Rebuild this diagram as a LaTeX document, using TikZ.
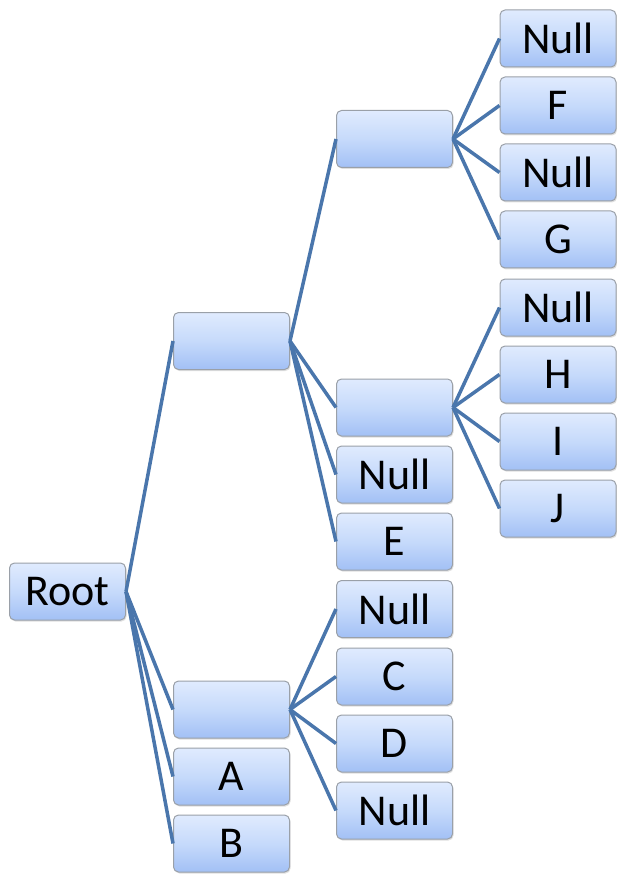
\documentclass[tikz,border=0pt]{standalone}
\usepackage{fontspec}
\setmainfont{Carlito}
\usetikzlibrary{shadows}
\definecolor{linkblue}{HTML}{4A76AC}
\definecolor{boxtop}{HTML}{E0EBFE}
\definecolor{boxmid}{HTML}{C6DAFB}
\definecolor{boxbot}{HTML}{A2C0F5}
\definecolor{boxedge}{HTML}{9AA0A8}
\tikzset{
  box/.style={draw=boxedge, line width=1pt, rounded corners=5pt,
    top color=boxtop, bottom color=boxbot, middle color=boxmid,
    minimum width=116pt, minimum height=57pt, inner sep=0pt,
    font=\fontsize{44}{44}\selectfont, text depth=0pt,
    drop shadow={shadow xshift=1pt, shadow yshift=-1.5pt, opacity=0.25}},
  link/.style={draw=linkblue, line width=3.5pt}
}
\begin{document}
\begin{tikzpicture}[x=1pt,y=-1pt]
\useasboundingbox (0,0) rectangle (616,874);
% level 0
\node[box] (root) at (67.5,591.5) {Root};
% level 1
\node[box] (n1) at (231.5,341) {};
\node[box] (n2) at (231.5,709.5) {};
\node[box] (a) at (231.5,776.5) {A};
\node[box] (b) at (231.5,843.5) {B};
% level 2
\node[box] (m1) at (394.5,139) {};
\node[box] (m2) at (394.5,407.5) {};
\node[box] (null1) at (394.5,474.5) {Null};
\node[box] (e) at (394.5,541.5) {E};
\node[box] (null2) at (394.5,609) {Null};
\node[box] (c) at (394.5,676.5) {C};
\node[box] (d) at (394.5,743.5) {D};
\node[box] (null3) at (394.5,810.5) {Null};
% level 3
\node[box] (null4) at (558,38.5) {Null};
\node[box] (f) at (558,105.5) {F};
\node[box] (null5) at (558,172.5) {Null};
\node[box] (g) at (558,239.5) {G};
\node[box] (null6) at (558,307.5) {Null};
\node[box] (h) at (558,374.5) {H};
\node[box] (i) at (558,441.5) {I};
\node[box] (j) at (558,508.5) {J};
% connectors
\foreach \c in {n1,n2,a,b} \draw[link] (root.east) -- (\c.west);
\foreach \c in {m1,m2,null1,e} \draw[link] (n1.east) -- (\c.west);
\foreach \c in {null2,c,d,null3} \draw[link] (n2.east) -- (\c.west);
\foreach \c in {null4,f,null5,g} \draw[link] (m1.east) -- (\c.west);
\foreach \c in {null6,h,i,j} \draw[link] (m2.east) -- (\c.west);
\end{tikzpicture}
\end{document}
